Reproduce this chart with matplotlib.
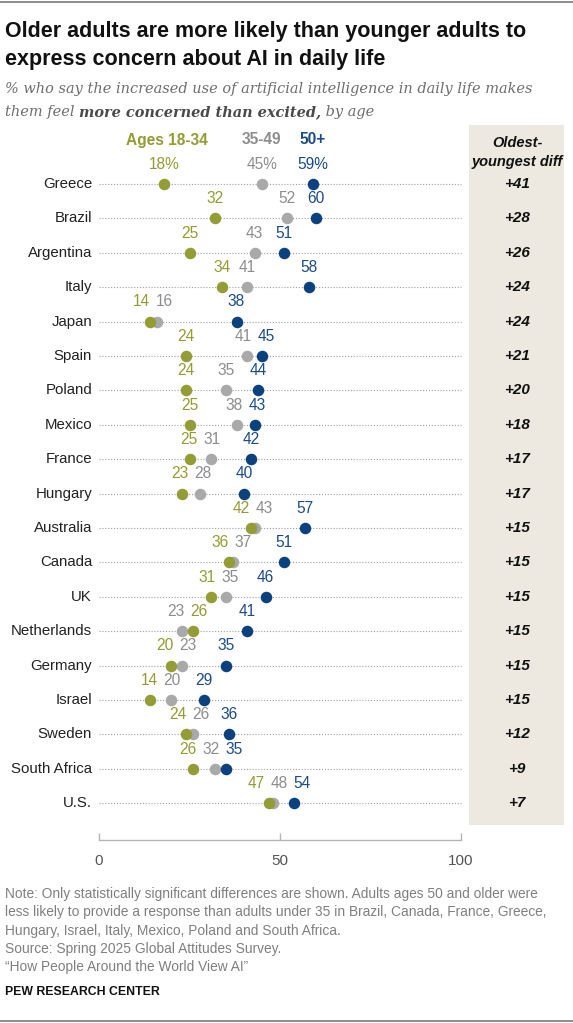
import matplotlib
matplotlib.use("Agg")
import matplotlib.pyplot as plt
from matplotlib.patches import Rectangle
from matplotlib.lines import Line2D

countries = ["Greece", "Brazil", "Argentina", "Italy", "Japan", "Spain", "Poland",
             "Mexico", "France", "Hungary", "Australia", "Canada", "UK", "Netherlands",
             "Germany", "Israel", "Sweden", "South Africa", "U.S."]
ages_18_34 = [18, 32, 25, 34, 14, 24, 24, 25, 25, 23, 42, 36, 31, 26, 20, 14, 24, 26, 47]
ages_35_49 = [45, 52, 43, 41, 16, 41, 35, 38, 31, 28, 43, 37, 35, 23, 23, 20, 26, 32, 48]
ages_50p = [59, 60, 51, 58, 38, 45, 44, 43, 42, 40, 57, 51, 46, 41, 35, 29, 36, 35, 54]
diffs = [41, 28, 26, 24, 24, 21, 20, 18, 17, 17, 15, 15, 15, 15, 15, 15, 12, 9, 7]
series_names = ["Ages 18-34", "35-49", "50+"]
x_ticks = [0, 50, 100]

W, H = 573, 1023
DOT = ["#949c35", "#a9a9a9", "#0a417e"]
LAB = ["#939b33", "#8d8d8d", "#1b4c87"]
SANS = ["Liberation Sans", "DejaVu Sans"]

fig = plt.figure(figsize=(W / 100, H / 100), dpi=100)

def fx(x):
    return x / W

def fy(y):
    return 1 - y / H

# top / bottom rules
fig.add_artist(Line2D([0, 1], [fy(2), fy(2)], color="#7a7a7a", lw=1.2))
fig.add_artist(Line2D([0, 1], [fy(1021), fy(1021)], color="#7a7a7a", lw=1.2))

# title
fig.text(fx(5), fy(31), "Older adults are more likely than younger adults to",
         fontsize=15.5, fontweight="bold", family=SANS, va="center", color="#111111")
fig.text(fx(5), fy(59), "express concern about AI in daily life",
         fontsize=15.5, fontweight="bold", family=SANS, va="center", color="#111111")

# subtitle
SERIF = ["DejaVu Serif"]
SUBFS = 10.45
fig.text(fx(5), fy(89), "% who say the increased use of artificial intelligence in daily life makes",
         fontsize=SUBFS, style="italic", family=SERIF, va="center", color="#6e6e6e")
t1 = fig.text(fx(5), fy(112), "them feel ", fontsize=SUBFS, style="italic", family=SERIF,
              va="center", color="#6e6e6e")
fig.canvas.draw()
r = fig.canvas.get_renderer()
bb = t1.get_window_extent(r)
t2 = fig.text(bb.x1 / W, fy(112), "more concerned than excited,", fontsize=SUBFS, style="italic",
              fontweight="bold", family=SERIF, va="center", color="#4a4a4a")
bb2 = t2.get_window_extent(r)
fig.text(bb2.x1 / W, fy(112), " by age", fontsize=SUBFS, style="italic", family=SERIF,
         va="center", color="#6e6e6e")

# gray panel
fig.add_artist(Rectangle((fx(469), fy(825)), (564 - 469) / W, (825 - 125) / H,
                         transform=fig.transFigure, facecolor="#ede9e0", edgecolor="none", zorder=0))
fig.text(fx(517), fy(143), "Oldest-", fontsize=10.5, fontweight="bold", style="italic",
         family=SANS, ha="center", va="center", color="#111111")
fig.text(fx(517), fy(162), "youngest diff", fontsize=10.5, fontweight="bold", style="italic",
         family=SANS, ha="center", va="center", color="#111111")

# axes geometry
x0, x1 = 99, 461
row0, step = 184, 34.4
ax_top, ax_bot = 125, 840
ax = fig.add_axes([fx(x0), fy(ax_bot), (x1 - x0) / W, (ax_bot - ax_top) / H])
ax.set_xlim(0, 100)
ax.set_ylim((ax_bot - row0) / step, (ax_top - row0) / step)
ax.patch.set_alpha(0)
for s in ["top", "left", "right"]:
    ax.spines[s].set_visible(False)
ax.spines["bottom"].set_color("#b5b5b5")
ax.spines["bottom"].set_linewidth(1.0)
ax.set_yticks([])
ax.set_xticks(x_ticks)
ax.tick_params(axis="x", direction="in", length=5, color="#b5b5b5", width=1.0,
               labelsize=11, labelcolor="#555555", pad=10)
for lab in ax.get_xticklabels():
    lab.set_family(SANS)

series = [ages_18_34, ages_35_49, ages_50p]
zorders = [4, 3, 5]
px_per_unit = (x1 - x0) / 100
min_sep = 23 / px_per_unit

for i, c in enumerate(countries):
    ax.plot([0, 100], [i, i], ls=(0, (1, 1.6)), color="#a0a0a0", lw=0.8, zorder=1, clip_on=False)
    ax.text(-1.9, i, c, ha="right", va="center", fontsize=10.8, family=SANS, color="#222222")
    vals = [s[i] for s in series]
    for k in range(3):
        ax.plot(vals[k], i, "o", ms=8.3, color=DOT[k], mec="none", zorder=zorders[k], clip_on=False)
    order = sorted(range(3), key=lambda k: vals[k])
    pos = [float(vals[k]) for k in order]
    for _ in range(60):
        for j in range(2):
            if pos[j + 1] - pos[j] < min_sep:
                m = (pos[j] + pos[j + 1]) / 2
                pos[j] = m - min_sep / 2
                pos[j + 1] = m + min_sep / 2
    for j, k in enumerate(order):
        txt = f"{vals[k]}%" if i == 0 else f"{vals[k]}"
        ax.text(pos[j], i - 0.57, txt, ha="center", va="center", fontsize=11.2, family=SANS,
                color=LAB[k], clip_on=False)
    fig.text(fx(517), fy(row0 + i * step), f"+{diffs[i]}", fontsize=11, fontweight="bold",
             style="italic", family=SANS, ha="center", va="center", color="#111111")

leg_x = [167, 261, 313]
for k in range(3):
    fig.text(fx(leg_x[k]), fy(140), series_names[k], fontsize=11.2, fontweight="bold",
             family=SANS, ha="center", va="center", color=LAB[k])

notes = [
    "Note: Only statistically significant differences are shown. Adults ages 50 and older were",
    "less likely to provide a response than adults under 35 in Brazil, Canada, France, Greece,",
    "Hungary, Israel, Italy, Mexico, Poland and South Africa.",
    "Source: Spring 2025 Global Attitudes Survey.",
    "\u201cHow People Around the World View AI\u201d",
]
for j, n in enumerate(notes):
    fig.text(fx(5), fy(894 + j * 18.3), n, fontsize=9.9, family=SANS, va="center", color="#7f7f7f")
fig.text(fx(5), fy(992), "PEW RESEARCH CENTER", fontsize=8.8, fontweight="bold", family=SANS,
         va="center", color="#111111")

fig.savefig("out.png", dpi=100)
